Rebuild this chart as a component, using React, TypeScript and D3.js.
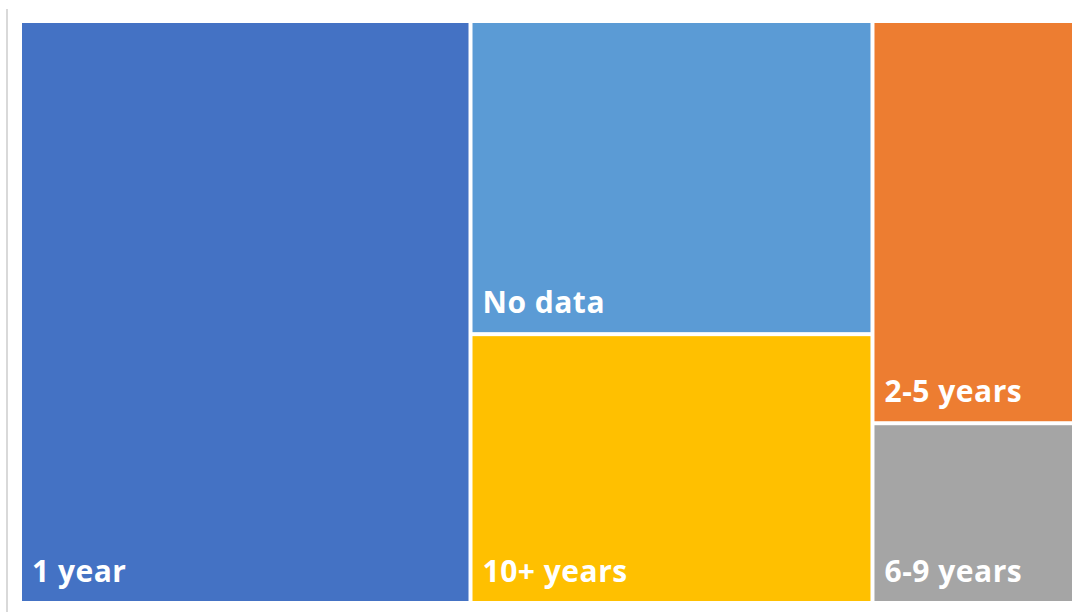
import React from "react";
import * as d3 from "d3";

const categories = ["1 year", "No data", "10+ years", "2-5 years", "6-9 years"];
const values = [42.7, 20.5, 17.6, 13.2, 5.9];
const colors = ["#4472C4", "#5B9BD5", "#FFC000", "#ED7D31", "#A5A5A5"];

const W = 1079;
const H = 612;
const X0 = 20, Y0 = 21, X1 = 1074, Y1 = 603;

export default function App() {
  const data = {
    name: "root",
    children: categories.map((c, i) => ({ name: c, value: values[i], color: colors[i] })),
  };
  const root = d3
    .hierarchy<any>(data)
    .sum((d: any) => d.value || 0);
  d3.treemap<any>()
    .tile(d3.treemapSquarify.ratio(1))
    .size([X1 - X0, Y1 - Y0])
    .paddingInner(0)
    .round(false)(root);
  const leaves = root.leaves() as any[];
  const gap = 2;
  return (
    <svg
      width={W}
      height={H}
      style={{ position: "absolute", left: 0, top: 0, background: "#fff" }}
    >
      <line x1={7} x2={7} y1={9} y2={H} stroke="#d9d9d9" strokeWidth={2} />
      <g transform={`translate(${X0},${Y0})`}>
        {leaves.map((l, i) => (
          <g key={i}>
            <rect
              x={l.x0 + gap}
              y={l.y0 + gap}
              width={l.x1 - l.x0 - gap * 2}
              height={l.y1 - l.y0 - gap * 2}
              fill={l.data.color}
            />
            <text
              x={l.x0 + gap + 10}
              y={l.y1 - gap - 19}
              fill="#fff"
              fontFamily="'Open Sans', 'Noto Sans', sans-serif"
              fontWeight="bold"
              fontSize={30}
              letterSpacing={0.5}
            >
              {l.data.name}
            </text>
          </g>
        ))}
      </g>
    </svg>
  );
}
